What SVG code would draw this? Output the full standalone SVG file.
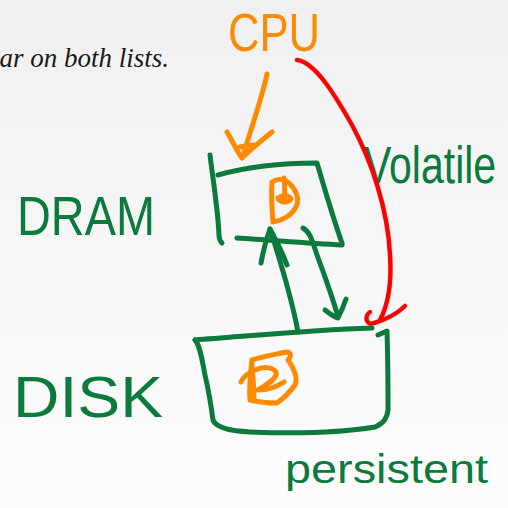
<svg xmlns="http://www.w3.org/2000/svg" width="508" height="508" viewBox="0 0 508 508">
  <defs>
    <linearGradient id="paper" x1="0" y1="0" x2="0" y2="1">
      <stop offset="0" stop-color="#f0f0f0"/>
      <stop offset="0.45" stop-color="#f6f6f6"/>
      <stop offset="1" stop-color="#fcfcfc"/>
    </linearGradient>
    <style>
      .ink { fill: none; stroke-linecap: round; stroke-linejoin: round; }
      .green { stroke: #0b7a3c; stroke-width: 5; }
      .orange { stroke: #ff8a00; stroke-width: 5; }
      .red { stroke: #ff0000; stroke-width: 4.5; }
      .hand { font-family: "Liberation Sans", "DejaVu Sans", sans-serif; }
      .hand-green { fill: #0b7a3c; }
      .hand-orange { fill: #ff8a00; }
      .slide { font-family: "Liberation Serif", "DejaVu Serif", serif; font-style: italic; fill: #1a1a1a; }
    </style>
  </defs>

  <!-- slide background -->
  <rect x="0" y="0" width="508" height="508" fill="url(#paper)"/>
  <text class="slide" x="169" y="67" font-size="27" text-anchor="end">ar on both lists.</text>

  <!-- CPU -->
  <g id="cpu">
    <text class="hand hand-orange" x="228" y="51" font-size="54" textLength="92" lengthAdjust="spacingAndGlyphs">CPU</text>
  </g>

  <!-- DRAM -->
  <g id="dram">
    <text class="hand hand-green" x="17" y="235" font-size="56" textLength="138" lengthAdjust="spacingAndGlyphs">DRAM</text>
    <path class="ink green" d="M210,155 C213,180 218,210 219,235 C219,240 222,243 222,243"/>
    <path class="ink green" d="M218,175 C250,166 285,163 317,163 C325,190 333,218 342,243"/>
    <path class="ink green" d="M237,238 C270,240 305,243 342,245"/>
    <!-- block 1 -->
    <path class="ink orange" d="M272,182 C271,196 272,210 273,222 C283,220 292,215 296,207 C300,199 296,190 290,184 C285,179 278,178 272,182"/>
    <path class="ink orange" d="M284,178 C285,186 285,193 284,199 M278,198 C282,195 290,195 291,199 C289,203 283,203 279,200"/>
  </g>

  <!-- DISK -->
  <g id="disk">
    <text class="hand hand-green" x="13" y="417" font-size="58" textLength="150" lengthAdjust="spacingAndGlyphs">DISK</text>
    <path class="ink green" d="M195,340 C250,336 310,330 372,328"/>
    <path class="ink green" d="M195,340 C200,345 202,360 205,375 C209,392 211,405 213,420 C216,428 230,431 250,432 C300,434 345,432 375,427 C384,423 387,418 388,410 C388,385 388,360 387,332 M378,335 L387,331"/>
    <!-- block 2 -->
    <path class="ink orange" d="M252,360 C265,356 278,354 286,352 C292,352 291,357 288,360 C294,368 298,378 295,385 C290,392 284,398 277,403 C268,403 258,402 250,400 C249,390 250,378 252,360"/>
    <path class="ink orange" d="M241,382 C244,375 250,372 255,370 C262,367 272,366 276,372 C278,378 268,384 258,390 C268,390 278,386 284,382"/>
    <path class="ink orange" d="M252,365 C253,378 254,390 254,398"/>
  </g>

  <!-- labels -->
  <g id="label-volatile">
    <text class="hand hand-green" transform="translate(364,183) scale(1,1.25)" x="0" y="0" font-size="41">Volatile</text>
  </g>
  <g id="label-persistent">
    <text class="hand hand-green" x="285" y="483" font-size="40" textLength="203" lengthAdjust="spacingAndGlyphs">persistent</text>
  </g>

  <!-- connectors -->
  <g id="connectors">
    <!-- CPU to DRAM -->
    <path class="ink orange" d="M267,74 C262,98 252,125 244,153"/>
    <path class="ink orange" d="M227,132 C232,140 236,150 242,158 C250,150 262,140 272,132 M240,147 C245,146 249,145 253,145"/>
    <!-- CPU to DISK -->
    <path class="ink red" d="M297,60 C315,62 335,95 352,125 C372,162 388,210 390,255 C392,285 388,305 380,320"/>
    <path class="ink red" d="M370,312 C364,316 366,326 374,323 C384,320 396,315 405,306"/>
    <!-- DISK to DRAM -->
    <path class="ink green" d="M298,332 C292,300 280,260 270,229"/>
    <path class="ink green" d="M261,263 C263,252 266,240 270,229 C276,240 282,252 287,265"/>
    <!-- DRAM to DISK -->
    <path class="ink green" d="M303,228 C310,232 312,240 316,252 C323,272 332,295 338,317"/>
    <path class="ink green" d="M325,310 C330,314 334,317 338,318 C341,312 344,305 346,299"/>
  </g>
</svg>
